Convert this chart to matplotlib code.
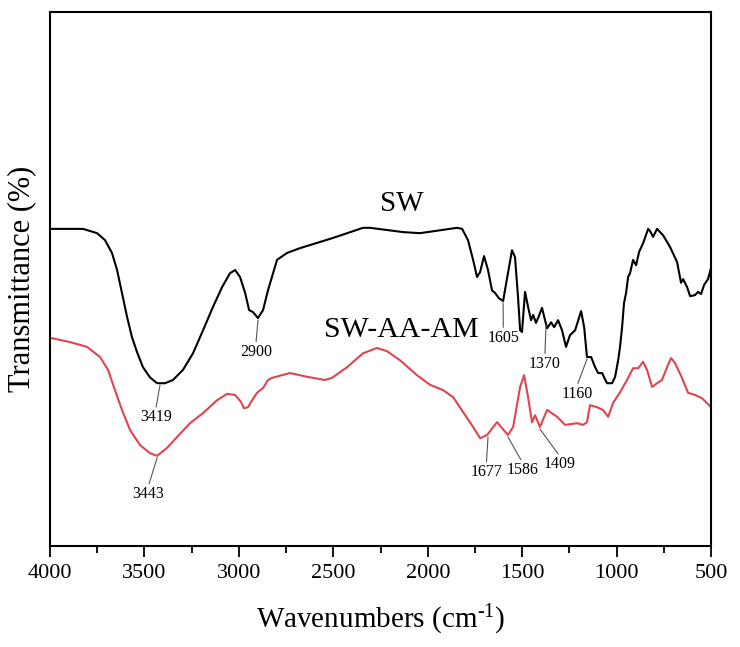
import numpy as np
import matplotlib
matplotlib.use('Agg')
import matplotlib.pyplot as plt

plt.rcParams['font.family'] = ['Liberation Serif', 'DejaVu Serif']
plt.rcParams['mathtext.fontset'] = 'custom'
plt.rcParams['mathtext.rm'] = 'Liberation Serif'
plt.rcParams['mathtext.it'] = 'Liberation Serif:italic'

# SW spectrum (wavenumber, transmittance)
sw_wn = [4000, 3825, 3751, 3709, 3672, 3645, 3619, 3592, 3566, 3539, 3508, 3471, 3433, 3391, 3349,
         3296, 3243, 3190, 3137, 3089, 3047, 3020, 2994, 2967, 2946, 2925, 2899, 2872, 2846, 2798,
         2745, 2676, 2502, 2343, 2306, 2131, 2041, 1845, 1818,
         1787, 1760, 1739, 1723, 1702, 1681, 1660, 1644, 1623, 1601, 1580, 1554, 1538, 1522, 1511,
         1501, 1485, 1469, 1453, 1442, 1427, 1416, 1395, 1379, 1368, 1347, 1331, 1310, 1289, 1268,
         1247, 1220, 1188, 1172, 1157, 1135, 1114, 1098, 1077, 1051, 1024, 1008, 992, 982, 971,
         961, 950, 939, 929, 913, 897, 881, 860, 833, 823, 807, 786, 754, 717, 680,
         659, 648, 627, 611, 585, 569, 553, 537, 516, 500]
sw_t = [59.4, 59.4, 58.6, 57.3, 54.9, 51.7, 47.4, 42.9, 39.1, 36.3, 33.5, 31.6, 30.5, 30.5, 31.1,
        33.0, 36.1, 40.4, 44.8, 48.5, 51.1, 51.7, 50.4, 47.4, 44.2, 43.8, 42.7, 44.2, 47.9, 53.6,
        54.9, 55.8, 57.7, 59.6, 59.6, 58.8, 58.6, 59.6, 59.4,
        57.3, 53.6, 50.4, 51.3, 54.3, 51.7, 47.9, 47.4, 46.4, 45.9, 50.2, 55.4, 54.1, 46.6, 40.4,
        40.1, 47.6, 44.8, 42.3, 43.3, 41.8, 42.7, 44.6, 42.3, 40.8, 41.9, 41.0, 42.3, 40.4, 37.3,
        39.5, 40.4, 44.0, 41.0, 35.4, 35.4, 33.5, 32.4, 32.4, 30.5, 30.5, 31.7, 34.8, 37.3, 41.0,
        45.5, 47.4, 50.4, 51.1, 53.6, 52.6, 55.1, 56.7, 59.4, 59.0, 57.9, 59.4, 58.2, 56.0, 53.2,
        49.3, 50.0, 48.5, 46.8, 47.0, 47.6, 47.2, 48.9, 50.0, 52.1]

# SW-AA-AM spectrum
am_wn = [4000, 3894, 3804, 3735, 3693, 3656, 3619, 3576, 3523, 3471, 3433, 3380, 3328, 3259, 3190,
         3116, 3063, 3020, 2989, 2973, 2952, 2930, 2904, 2872, 2846, 2825, 2729, 2639, 2544, 2507,
         2427, 2343, 2269, 2216, 2147, 2057, 1988, 1919, 1866, 1813, 1760, 1723, 1686,
         1633, 1607, 1575, 1548, 1511, 1490, 1469, 1448, 1432, 1406,
         1368, 1315, 1273, 1210, 1178, 1157, 1141, 1104, 1072, 1045, 1019, 982, 945, 913, 886,
         860, 839, 812, 786, 760, 733, 712, 691, 654, 622, 585, 548, 500]
am_t = [39.0, 38.2, 37.3, 35.4, 33.0, 29.2, 25.5, 21.7, 18.9, 17.4, 16.9, 18.4, 20.4, 23.0, 24.9,
        27.3, 28.5, 28.3, 27.0, 25.8, 26.0, 27.3, 28.7, 29.6, 31.1, 31.5, 32.4, 31.7, 31.1, 31.5,
        33.5, 36.1, 37.1, 36.5, 34.8, 32.0, 30.2, 29.2, 27.9, 25.1, 22.3, 20.2, 20.8,
        23.2, 22.1, 20.8, 22.3, 29.8, 32.0, 27.9, 23.2, 24.5, 22.3,
        25.5, 24.2, 22.7, 23.0, 22.7, 23.2, 26.4, 26.0, 25.5, 24.2, 26.8, 28.8, 31.1, 33.3, 33.3,
        34.5, 33.0, 29.8, 30.5, 31.1, 33.5, 35.2, 34.3, 31.5, 28.7, 28.3, 27.7, 26.0]

# peak labels: (text, wavenumber on curve, T on curve, label wavenumber, label T)
sw_peaks = [('3419', 3418, 30.5, 3440, 24.1),
            ('2900', 2899, 42.7, 2910, 36.3),
            ('1605', 1601, 45.9, 1600, 39.0),
            ('1370', 1374, 41.8, 1380, 34.1),
            ('1160', 1157, 35.4, 1210, 28.5)]
am_peaks = [('3443', 3433, 16.9, 3480, 9.7),
            ('1677', 1681, 20.8, 1690, 13.8),
            ('1586', 1575, 20.8, 1500, 14.2),
            ('1409', 1406, 22.3, 1300, 15.3)]

fig = plt.figure(figsize=(7.4, 6.47), dpi=100)
ax = fig.add_axes([0.0676, 0.156, 0.8933, 0.8253])

ax.plot(sw_wn, sw_t, color='black', lw=1.5)
ax.plot(am_wn, am_t, color='#e0444e', lw=1.5)

for peaks in (sw_peaks, am_peaks):
    for txt, x0, y0, x1, y1 in peaks:
        ax.plot([x0, x1 + (x0 - x1) * 0.1], [y0 - 0.4, y1 + 2.0], color='#555555', lw=0.8)
        ax.text(x1, y1, txt, fontsize=11.5, ha='center', va='center')

ax.text(2136, 64.0, 'SW', fontsize=21, ha='center', va='center')
ax.text(2141, 40.4, 'SW-AA-AM', fontsize=21.5, ha='center', va='center')

ax.set_xlim(4000, 500)
ax.set_ylim(0, 100)
ax.set_xticks(np.arange(4000, 499, -500))
ax.set_xticks(np.arange(3750, 500, -500), minor=True)
ax.set_yticks([])
ax.tick_params(axis='x', which='major', direction='out', length=8, width=1.3, labelsize=16, pad=5)
ax.tick_params(axis='x', which='minor', direction='out', length=5, width=1.3)
for s in ax.spines.values():
    s.set_linewidth(1.5)

ax.set_xlabel(r'Wavenumbers (cm$^{\text{-1}}$)', fontsize=21, labelpad=14)
ax.set_ylabel('Transmittance (%)', fontsize=22, labelpad=10)

fig.savefig('out.png', dpi=100)
